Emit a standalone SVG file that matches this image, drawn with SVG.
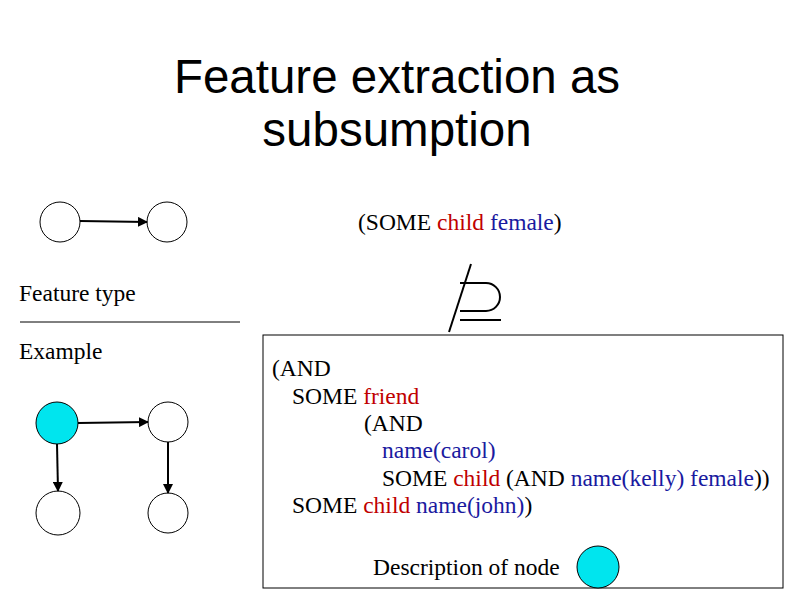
<svg xmlns="http://www.w3.org/2000/svg" width="794" height="595" viewBox="0 0 794 595">
<defs><marker id="a" markerWidth="10" markerHeight="10" refX="9" refY="5" orient="auto" markerUnits="userSpaceOnUse"><path d="M0,0 L10,5 L0,10 z" fill="#000"/></marker></defs>
<style>
.n{fill:#fff;stroke:#000;stroke-width:1}
.b{fill:#00e5ee;stroke:#000;stroke-width:1}
.t{font-family:"Liberation Serif","Times New Roman",serif;font-size:23.5px;fill:#000}
.h{font-family:"Liberation Sans",Arial,sans-serif;font-size:47.5px;fill:#000;text-anchor:middle}
.r{fill:#c00000}.u{fill:#1a1aa0}
.c{stroke:#000;stroke-width:2;fill:none;marker-end:url(#a)}
</style>
<rect width="794" height="595" fill="#fff"/>
<text class="h" x="397" y="93">Feature extraction as</text>
<text class="h" x="397" y="146">subsumption</text>
<g id="n1"><circle class="n" cx="60" cy="222" r="20"/></g>
<g id="n2"><circle class="n" cx="167" cy="222" r="20"/></g>
<g id="n3"><circle class="b" cx="57" cy="423" r="21"/></g>
<g id="n4"><circle class="n" cx="168" cy="422" r="20"/></g>
<g id="n5"><circle class="n" cx="58" cy="513" r="22"/></g>
<g id="n6"><circle class="n" cx="168" cy="513" r="20"/></g>
<g id="connectors">
<path class="c" d="M80,221 L147,222"/>
<path class="c" d="M78,423 L148,422"/>
<path class="c" d="M57,444 L58,491"/>
<path class="c" d="M168,442 L168,493"/>
</g>
<text class="t" x="19" y="301">Feature type</text>
<line x1="20" y1="322" x2="240" y2="322" stroke="#000" stroke-width="1"/>
<text class="t" x="19" y="359">Example</text>
<text class="t" x="358" y="230">(SOME <tspan class="r">child</tspan> <tspan class="u">female</tspan>)</text>
<g fill="none" stroke="#000" stroke-width="2">
<path d="M460,283 L486,283 A14,14 0 0 1 486,311 L460,311"/>
<line x1="460" y1="320" x2="501" y2="320"/>
<line x1="471" y1="264" x2="449" y2="332"/>
</g>
<rect x="263" y="335" width="520" height="253" fill="none" stroke="#000" stroke-width="1"/>
<text class="t" x="272" y="376">(AND</text>
<text class="t" x="292" y="404">SOME <tspan class="r">friend</tspan></text>
<text class="t" x="364" y="431">(AND</text>
<text class="t" x="382" y="458"><tspan class="u">name(carol)</tspan></text>
<text class="t" x="382" y="486">SOME <tspan class="r">child</tspan> (AND <tspan class="u">name(kelly)</tspan> <tspan class="u">female</tspan>))</text>
<text class="t" x="292" y="513">SOME <tspan class="r">child</tspan> <tspan class="u">name(john)</tspan>)</text>
<text class="t" x="373" y="575">Description of node</text>
<g id="n7"><circle class="b" cx="598" cy="567" r="21"/></g>
</svg>
